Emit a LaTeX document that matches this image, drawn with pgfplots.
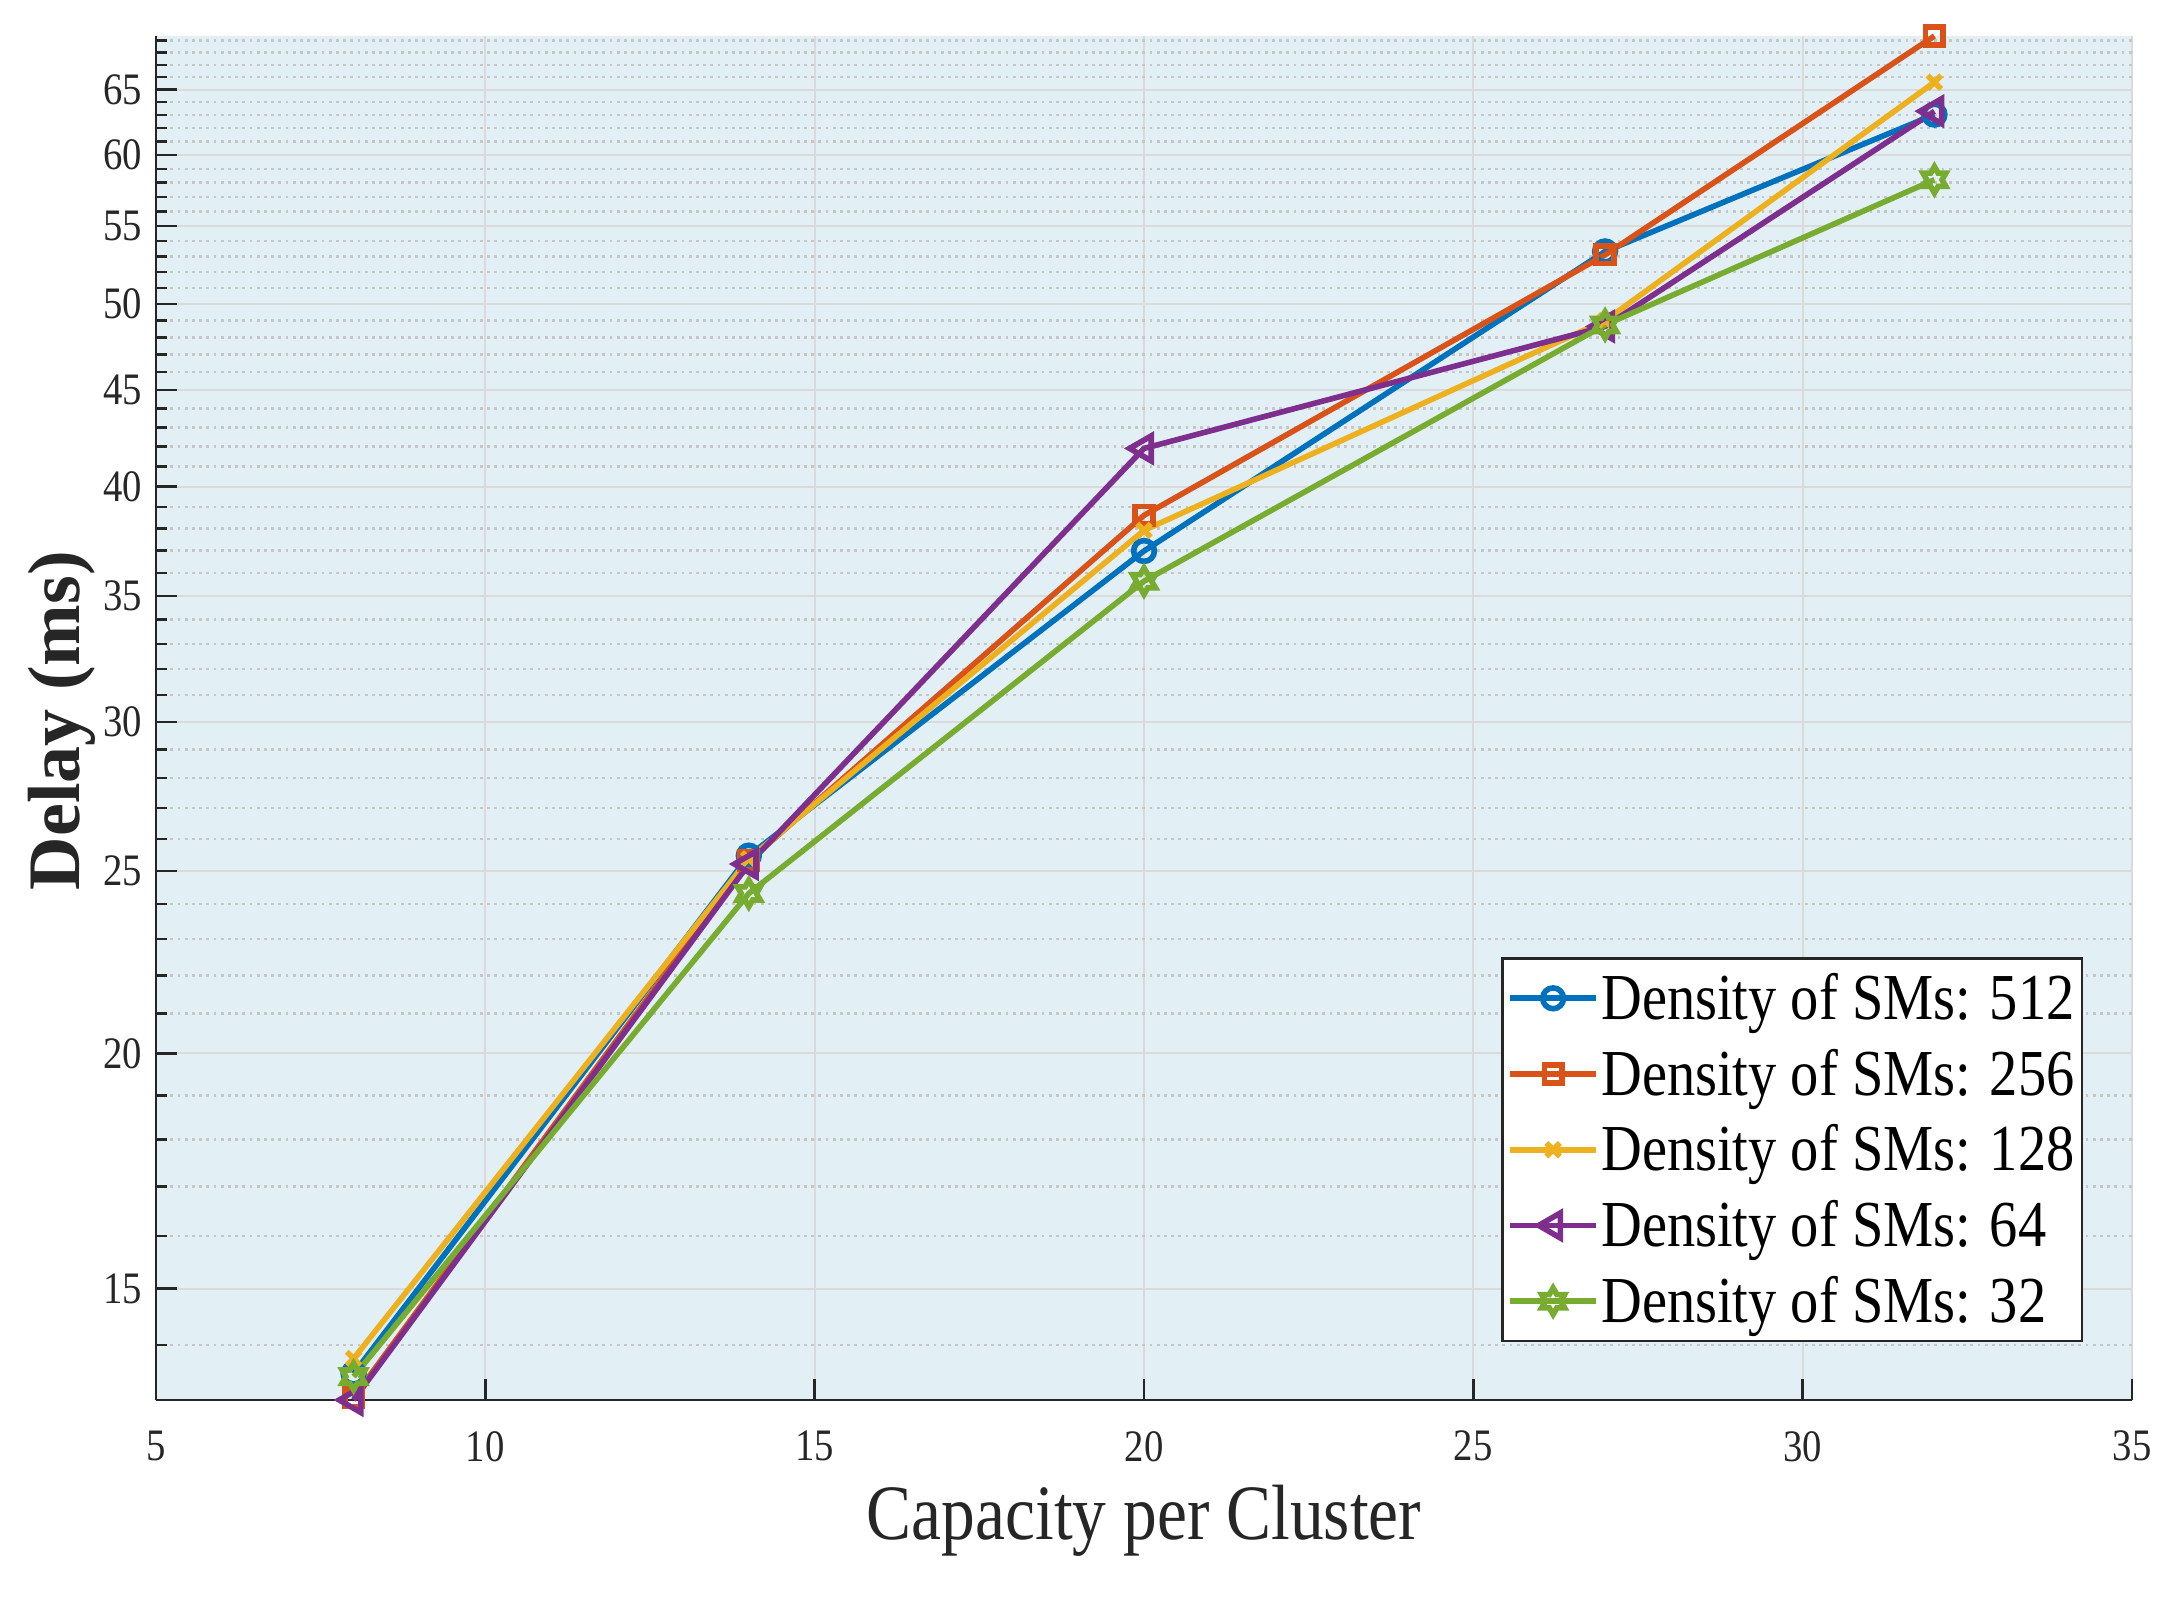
\documentclass[border=0pt]{standalone}
\usepackage{pgfplots}
\pgfplotsset{compat=1.18}
\usepackage{fontspec}
\setmainfont{Liberation Serif}[FakeStretch=0.86]
\newfontfamily\ylabfont{Liberation Serif}
\definecolor{c1}{RGB}{0,114,189}
\definecolor{c2}{RGB}{217,83,25}
\definecolor{c3}{RGB}{237,177,32}
\definecolor{c4}{RGB}{126,47,142}
\definecolor{c5}{RGB}{119,172,48}
\definecolor{bg}{RGB}{226,239,245}
\definecolor{axc}{RGB}{38,38,38}
\definecolor{majg}{RGB}{218,218,218}
\definecolor{ming}{RGB}{198,198,198}
\pgfdeclareplotmark{hexagram}{%
  \pgfpathmoveto{\pgfpointpolar{90}{\pgfplotmarksize}}%
  \pgfpathlineto{\pgfpointpolar{120}{0.577\pgfplotmarksize}}%
  \pgfpathlineto{\pgfpointpolar{150}{\pgfplotmarksize}}%
  \pgfpathlineto{\pgfpointpolar{180}{0.577\pgfplotmarksize}}%
  \pgfpathlineto{\pgfpointpolar{210}{\pgfplotmarksize}}%
  \pgfpathlineto{\pgfpointpolar{240}{0.577\pgfplotmarksize}}%
  \pgfpathlineto{\pgfpointpolar{270}{\pgfplotmarksize}}%
  \pgfpathlineto{\pgfpointpolar{300}{0.577\pgfplotmarksize}}%
  \pgfpathlineto{\pgfpointpolar{330}{\pgfplotmarksize}}%
  \pgfpathlineto{\pgfpointpolar{0}{0.577\pgfplotmarksize}}%
  \pgfpathlineto{\pgfpointpolar{30}{\pgfplotmarksize}}%
  \pgfpathlineto{\pgfpointpolar{60}{0.577\pgfplotmarksize}}%
  \pgfpathclose\pgfusepathqstroke}
\begin{document}
\begin{tikzpicture}
\begin{axis}[
  scale only axis, width=494pt, height=341pt,
  xmin=5, xmax=35, ymin=13.09, ymax=69.4, ymode=log,
  clip=false,
  axis x line=bottom, axis y line=left,
  axis line style={-, line width=0.6pt, color=axc},
  axis background/.style={fill=bg},
  xtick={5,10,15,20,25,30,35}, xticklabels={5,10,15,20,25,30,35},
  ytick={15,20,25,30,35,40,45,50,55,60,65},
  yticklabels={15,20,25,30,35,40,45,50,55,60,65},
  minor ytick={14,16,17,18,19,21,22,23,24,26,27,28,29,31,32,33,34,36,37,38,39,41,42,43,44,46,47,48,49,51,52,53,54,56,57,58,59,61,62,63,64,66,67,68,69},
  tick align=inside, major tick length=5.25pt, minor tick length=2.75pt,
  every tick/.style={line width=0.6pt, color=axc},
  xmajorgrids, ymajorgrids, yminorgrids,
  major grid style={line width=0.5pt, color=majg},
  minor grid style={line width=0.6pt, color=ming, dash pattern=on 0.7pt off 1.1pt},
  tick label style={font=\fontsize{11.25}{13}\selectfont, color=axc},
  xticklabel style={yshift=-4.25pt},
  every axis x label/.style={at={(axis description cs:0.5,0)}, anchor=base, yshift=-35pt, font=\fontsize{19.6}{22}\selectfont, color=axc},
  every axis y label/.style={at={(axis description cs:-0.0385,0.498)}, anchor=base, rotate=90, font=\ylabfont\bfseries\fontsize{18.5}{21}\selectfont, color=axc},
  xlabel={Capacity per Cluster},
  ylabel={Delay (ms)},
  legend style={at={(axis description cs:0.9752,0.0425)}, anchor=south east, draw=axc, line width=0.6pt, fill=white,
    font=\fontsize{16.4}{19}\selectfont, inner xsep=1.2pt, inner ysep=0.45pt, row sep=0pt,
    nodes={inner xsep=0.6pt, inner ysep=0pt, text height=14.75pt, text depth=4.18pt}, cells={anchor=west}},
  legend image code/.code={\draw[mark repeat=2,mark phase=2] plot coordinates {(0pt,0pt) (10.75pt,0pt) (21.5pt,0pt)};},
  every axis plot/.append style={line width=1.4pt},
]
\addplot[color=c1, mark=o, mark size=2.6pt, mark options={solid}] coordinates {(8,13.52) (14,25.47) (20,36.97) (27,53.32) (32,63.04)};
\addlegendentry{Density of SMs: 512}
\addplot[color=c2, mark=square, mark size=2.2pt, mark options={solid}] coordinates {(8,13.13) (14,25.31) (20,38.62) (27,53.10) (32,69.40)};
\addlegendentry{Density of SMs: 256}
\addplot[color=c3, mark=x, mark size=2.4pt, mark options={solid}] coordinates {(8,13.77) (14,25.37) (20,37.92) (27,49.00) (32,65.58)};
\addlegendentry{Density of SMs: 128}
\addplot[color=c4, mark=triangle, mark size=3.6pt, mark options={solid, rotate=90}] coordinates {(8,13.09) (14,25.21) (20,41.91) (27,48.65) (32,63.30)};
\addlegendentry{Density of SMs: 64}
\addplot[color=c5, mark=hexagram, mark size=3.3pt, mark options={solid}] coordinates {(8,13.47) (14,24.32) (20,35.63) (27,48.74) (32,58.21)};
\addlegendentry{Density of SMs: 32}
\end{axis}
\pgfresetboundingbox
\path ([shift={(-39pt,-50pt)}]current axis.south west) rectangle ([shift={(12.5pt,9pt)}]current axis.north east);
\end{tikzpicture}
\end{document}
